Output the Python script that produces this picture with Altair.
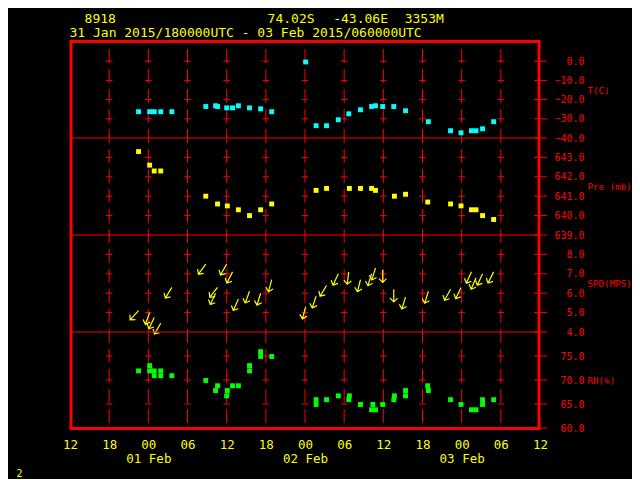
import json
import altair as alt
import pandas as pd

FONT = "DejaVu Sans Mono"
RED = "#ff0000"
YELLOW = "#ffff00"
CYAN = "#00ffff"
GREEN = "#00ff00"

# ---------------- text ----------------
HEADER_STATION = "8918"
HEADER_LAT = "74.02S"
HEADER_LON = "-43.06E"
HEADER_ELEV = "3353M"
HEADER_RANGE = "31 Jan 2015/180000UTC - 03 Feb 2015/060000UTC"
FOOTER = "2"

# time axis: hours since 31 Jan 2015 12UTC
TICK_HOURS = list(range(0, 73, 6))
HOUR_LABELS = ["12", "18", "00", "06", "12", "18", "00", "06", "12", "18", "00", "06", "12"]
DAY_LABELS = ["", "", "01 Feb", "", "", "", "02 Feb", "", "", "", "03 Feb", "", ""]

# ---------------- data ----------------
T_HOURS = [10.5, 12.2, 12.9, 13.9, 15.6, 20.8, 22.3, 22.6, 24.0, 24.9, 25.8, 27.5, 29.2, 30.9,
           36.1, 37.7, 39.3, 41.1, 42.7, 44.5, 46.2, 46.8, 47.9, 49.6, 51.4, 54.9, 58.3, 59.9,
           61.5, 62.2, 63.2, 64.9]
T_VALS = [-26.3, -26.3, -26.3, -26.3, -26.3, -23.6, -23.2, -23.6, -24.3, -24.3, -23.2, -24.3,
          -24.8, -26.3, -0.4, -33.6, -33.6, -30.5, -27.4, -25.3, -23.6, -23.2, -23.6, -23.6,
          -25.8, -31.5, -36.2, -37.3, -36.2, -36.2, -35.2, -31.5]

P_HOURS = [10.5, 12.2, 12.9, 13.9, 20.8, 22.6, 24.1, 25.8, 27.5, 29.2, 30.9, 37.7, 39.3, 42.8,
           44.5, 46.2, 46.8, 49.7, 51.4, 54.8, 58.3, 59.9, 61.5, 62.2, 63.2, 64.9]
P_VALS = [643.3, 642.6, 642.3, 642.3, 641.0, 640.6, 640.5, 640.3, 640.0, 640.3, 640.6, 641.3,
          641.4, 641.4, 641.4, 641.4, 641.3, 641.0, 641.1, 640.7, 640.6, 640.5, 640.3, 640.3,
          640.0, 639.8]

W_HOURS = [10.5, 12.2, 12.9, 13.9, 15.6, 20.8, 22.3, 22.6, 24.0, 24.9, 25.8, 27.5, 29.2, 30.9,
           36.1, 37.7, 39.3, 41.1, 42.7, 44.5, 46.2, 46.8, 47.9, 49.6, 51.4, 54.9, 58.3, 59.9,
           61.5, 62.2, 63.2, 64.9]
W_SPD = [5.1, 5.0, 4.75, 4.45, 6.3, 7.5, 6.0, 6.3, 7.5, 7.1, 5.7, 6.1, 6.0, 6.7, 5.3, 5.85,
         6.4, 7.0, 7.1, 6.7, 7.0, 7.3, 7.2, 6.2, 5.8, 6.1, 6.2, 6.3, 7.1, 6.8, 7.0, 7.1]
W_DIR = [42, 20, 25, 30, 31, 36, 25, 38, 30, 27, 24, 20, 17, 15, 15, 18, 31, 25, 7, 14,
         17, 17, 0, 0, 17, 17, 29, 25, 24, 23, 25, 27]

RH_HOURS = [10.5, 12.2, 12.2, 12.9, 13.9, 12.9, 13.9, 15.6, 20.8, 22.6, 22.3, 24.1, 24.0, 24.9,
            25.8, 27.5, 27.5, 29.2, 29.2, 30.9, 37.7, 37.7, 39.3, 41.1, 42.8, 42.7, 44.5, 46.4,
            46.2, 46.8, 47.9, 49.7, 49.6, 51.4, 51.4, 54.8, 54.9, 58.3, 59.9, 61.5, 62.2, 63.2,
            63.2, 64.9]
RH_VALS = [71.9, 73.0, 71.9, 71.9, 71.9, 70.9, 70.9, 70.9, 69.9, 68.8, 67.8, 67.8, 66.7, 68.8,
           68.8, 73.0, 71.9, 75.9, 74.9, 74.9, 65.9, 64.9, 65.9, 66.7, 66.7, 65.9, 64.9, 64.9,
           63.8, 63.8, 64.9, 66.7, 65.9, 67.8, 66.7, 68.8, 67.8, 65.9, 64.9, 63.8, 63.8, 65.9,
           64.9, 65.9]

PANELS = [
    dict(title="T(C)", domain=[-40, 10], ticks=[0, -10, -20, -30, -40]),
    dict(title="Pre (mb)", domain=[639, 644], ticks=[643, 642, 641, 640, 639]),
    dict(title="SPD(MPS)", domain=[4, 9], ticks=[8, 7, 6, 5, 4]),
    dict(title="RH(%)", domain=[60, 80], ticks=[75, 70, 65, 60]),
]

# ---------------- layout ----------------
W = 470
HEIGHTS = [96, 97, 97, 96]
DASH_OFFSETS = [13, 9, 6, 3]
ARROW = "M0,0L0,1M-0.3,0.7L0,1L0.3,0.7"
CROSS = "M-1,0L1,0"
SQ = 24

label_items = [[h, d] if d else h for h, d in zip(HOUR_LABELS, DAY_LABELS)]
label_expr = json.dumps(label_items) + "[round(datum.value / 6)]"

one = pd.DataFrame({"k": [0]})


def build(i, data_layer):
    p = PANELS[i]
    H = HEIGHTS[i]
    last = i == len(PANELS) - 1
    if last:
        x_axis = alt.Axis(values=TICK_HOURS, labelExpr=label_expr, ticks=False, tickSize=0,
                          domain=False, grid=False, labelColor=YELLOW, labelFont=FONT,
                          labelFontSize=12.5, labelPadding=10, labelLineHeight=14,
                          labelAngle=0, labelAlign="center", labelBaseline="top",
                          labelFlush=False, labelOverlap=False, title=None)
    else:
        x_axis = None
    xs = alt.Scale(domain=[0, 72], nice=False, zero=False)
    ys = alt.Scale(domain=p["domain"], nice=False, zero=False)
    y_axis = alt.Axis(orient="right", values=p["ticks"], format=".1f", ticks=False, tickSize=0,
                      domain=False, grid=False, labelColor=RED, labelFont=FONT, labelFontSize=10,
                      labelAlign="right", labelBaseline="middle", labelPadding=44,
                      labelFlush=False, labelOverlap=False, title=p["title"], titleColor=RED,
                      titleFont=FONT, titleFontSize=9.2, titleFontWeight="normal", titleAngle=0,
                      titleAlign="left", titleBaseline="middle", titleX=47, titleY=H / 2)
    X = alt.X("h:Q", scale=xs, axis=x_axis)
    Y = alt.Y("v:Q", scale=ys, axis=y_axis)

    grid_hours = pd.DataFrame({"h": TICK_HOURS[1:-1]})
    vlines = alt.Chart(grid_hours).mark_rule(
        color=RED, strokeWidth=1, strokeDash=[14, 6], strokeDashOffset=DASH_OFFSETS[i]
    ).encode(x=X, y=alt.value(0), y2=alt.value(H))

    inner = [t for t in p["ticks"] if t != p["domain"][0]]
    cross_df = pd.DataFrame([{"h": h, "v": v} for h in TICK_HOURS[1:-1] for v in inner])
    crosses = alt.Chart(cross_df).mark_point(
        shape=CROSS, size=44, filled=False, stroke=RED, strokeWidth=1, opacity=1
    ).encode(x=X, y=Y)

    tick_df = pd.DataFrame({"v": p["ticks"]})
    rticks = alt.Chart(tick_df).mark_rule(color=RED, strokeWidth=1).encode(
        y=Y, x=alt.value(W - 6), x2=alt.value(W + 7))

    frame = [
        alt.Chart(one).mark_rule(color=RED, strokeWidth=3).encode(
            x=alt.value(1), y=alt.value(0), y2=alt.value(H)),
        alt.Chart(one).mark_rule(color=RED, strokeWidth=3).encode(
            x=alt.value(W - 1), y=alt.value(0), y2=alt.value(H)),
    ]
    if i == 0:
        frame.append(alt.Chart(one).mark_rule(color=RED, strokeWidth=3).encode(
            x=alt.value(-0.5), x2=alt.value(W + 0.5), y=alt.value(-0.5)))
    else:
        frame.append(alt.Chart(one).mark_rule(color=RED, strokeWidth=1).encode(
            x=alt.value(0), x2=alt.value(W), y=alt.value(0)))
    if last:
        frame.append(alt.Chart(one).mark_rule(color=RED, strokeWidth=3).encode(
            x=alt.value(-0.5), x2=alt.value(W + 0.5), y=alt.value(H + 0.5)))

    layers = [vlines, crosses, rticks] + frame + [data_layer(X, Y)]

    def txt(s, x, y, size):
        return alt.Chart(pd.DataFrame({"s": [s]})).mark_text(
            font=FONT, fontSize=size, color=YELLOW, align="left", baseline="alphabetic"
        ).encode(text="s:N", x=alt.value(x), y=alt.value(y))

    if i == 0:
        layers += [txt(HEADER_STATION, 14.6, -18.7, 13), txt(HEADER_LAT, 197.6, -18.7, 13),
                   txt(HEADER_LON, 263.2, -18.7, 13), txt(HEADER_ELEV, 334.7, -18.7, 13),
                   txt(HEADER_RANGE, -0.5, -5.3, 13)]
    if last:
        layers.append(txt(FOOTER, -53.4, 145, 10))

    return alt.layer(*layers).properties(width=W, height=H)


def t_layer(X, Y):
    df = pd.DataFrame({"h": T_HOURS, "v": T_VALS})
    return alt.Chart(df).mark_square(size=SQ, color=CYAN, opacity=1).encode(x=X, y=Y)


def p_layer(X, Y):
    df = pd.DataFrame({"h": P_HOURS, "v": P_VALS})
    return alt.Chart(df).mark_square(size=SQ, color=YELLOW, opacity=1).encode(x=X, y=Y)


def w_layer(X, Y):
    df = pd.DataFrame({"h": W_HOURS, "v": W_SPD, "d": W_DIR})
    return alt.Chart(df).mark_point(
        shape=ARROW, size=625, filled=False, stroke=YELLOW, strokeWidth=1.2, opacity=1
    ).encode(x=X, y=Y, angle=alt.Angle("d:Q", scale=None))


def rh_layer(X, Y):
    df = pd.DataFrame({"h": RH_HOURS, "v": RH_VALS})
    return alt.Chart(df).mark_square(size=SQ, color=GREEN, opacity=1).encode(x=X, y=Y)


panels = [build(0, t_layer), build(1, p_layer), build(2, w_layer), build(3, rh_layer)]

chart = alt.vconcat(*panels, spacing=0, bounds="flush").properties(
    padding={"left": 8, "top": 5, "right": 0, "bottom": 0},
    background="black",
).configure_view(stroke=None)

chart.save("out.html", embed_options={"renderer": "svg", "actions": False})
